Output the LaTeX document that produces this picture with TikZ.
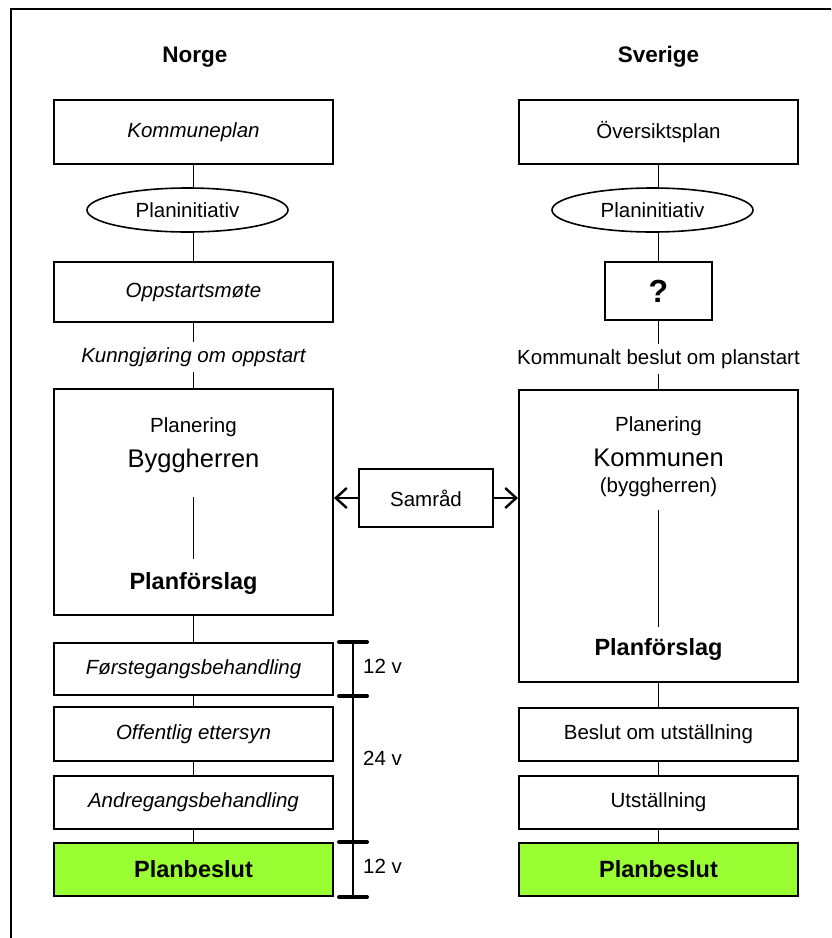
\documentclass[tikz,border=0pt]{standalone}
\usepackage{fontspec}
\setmainfont{Liberation Sans}
\usetikzlibrary{shapes.geometric}
\usetikzlibrary{arrows.meta}

\definecolor{beslutgreen}{RGB}{153,255,51}

\begin{document}
\begin{tikzpicture}[
    x=1pt, y=-1pt, % pixel-like coordinates, y grows downwards
    every node/.style={
        inner sep=0pt, % no padding, sizes are given explicitly
        font=\fontsize{20.5}{24}\selectfont % Arial-like text
    },
    title/.style={font=\fontsize{22.5}{26}\selectfont\bfseries},
    stepbox/.style={draw, line width=2pt, minimum width=279pt},
    oval/.style={draw, ellipse, line width=1.6pt, minimum width=201pt, minimum height=44pt},
    final/.style={fill=beslutgreen, font=\fontsize{23.5}{27}\selectfont\bfseries},
    label/.style={inner ysep=5pt}, % text between two steps
    link/.style={line width=1.3pt},
    samarrow/.style={line width=2.4pt, -{Straight Barb[length=11pt,width=20pt]}},
    tick/.style={line width=4pt, line cap=round}
]
\useasboundingbox (0,0) rectangle (831,938);
\clip (0,0) rectangle (831,938);
\draw[line width=2pt] (11,9) rectangle (900,1000);

% Norge
\node[title] (no) at (195,57) {Norge};
\node[stepbox, minimum height=64pt] (kp) at (193.5,132) {\itshape Kommuneplan};
\node[oval] (pln) at (187.5,210) {Planinitiativ};
\node[stepbox, minimum height=60pt] (om) at (193.5,292) {\itshape Oppstartsmøte};
\node[label] (ku) at (193.5,357) {\itshape Kunngjøring om oppstart};
\node[stepbox, minimum height=226pt] (pbn) at (193.5,502) {};
\node (pn) at (193.5,427) {Planering};
\node[font=\fontsize{25.5}{30}\selectfont] (by) at (193.5,461) {Byggherren};
\node[font=\fontsize{23.5}{27}\selectfont\bfseries] (pfn) at (193.5,583) {Planförslag};
\coordinate (ln1) at (193.5,497);
\coordinate (ln2) at (193.5,559);
\node[stepbox, minimum height=52pt] (fb) at (193.5,669) {\itshape Førstegangsbehandling};
\node[stepbox, minimum height=54pt] (oe) at (193.5,734) {\itshape Offentlig ettersyn};
\node[stepbox, minimum height=53pt] (ab) at (193.5,802.5) {\itshape Andregangsbehandling};
\node[stepbox, final, minimum height=53pt] (bn) at (193.5,869.5) {Planbeslut};

% Sverige
\node[title] (se) at (658.5,57) {Sverige};
\node[stepbox, minimum height=64pt] (op) at (658.5,132) {Översiktsplan};
\node[oval] (pls) at (652.5,210) {Planinitiativ};
\node[stepbox, minimum width=107pt, minimum height=58pt, font=\fontsize{32}{36}\selectfont\bfseries] (qu) at (658.5,291) {?};
\node[label] (kb) at (658.5,359) {Kommunalt beslut om planstart};
\node[stepbox, minimum height=292pt] (pbs) at (658.5,536) {};
\node (ps) at (658.5,426) {Planering};
\node[font=\fontsize{25.5}{30}\selectfont] (ko) at (658.5,458) {Kommunen};
\node (kby) at (658.5,487) {(byggherren)};
\node[font=\fontsize{23.5}{27}\selectfont\bfseries] (pfs) at (658.5,649) {Planförslag};
\coordinate (ls1) at (658.5,510);
\coordinate (ls2) at (658.5,627);
\node[stepbox, minimum height=53pt] (bu) at (658.5,734) {Beslut om utställning};
\node[stepbox, minimum height=53pt] (ut) at (658.5,802.5) {Utställning};
\node[stepbox, final, minimum height=53pt] (bs) at (658.5,869.5) {Planbeslut};

% Samråd
\node[stepbox, minimum width=134pt, minimum height=58pt] (sa) at (426,498) {Samråd};
\draw[samarrow] (sa.west) -- (sa.west -| pbn.east);
\draw[samarrow] (sa.east) -- (sa.east -| pbs.west);

% connectors
\draw[link] (kp.south) -- (kp.south |- pln.north);
\draw[link] (kp.south |- pln.south) -- (om.north);
\draw[link] (om.south) -- (ku.north);
\draw[link] (ku.south) -- (pbn.north);
\draw[link] (ln1) -- (ln2);
\draw[link] (pbn.south) -- (fb.north);
\draw[link] (fb.south) -- (oe.north);
\draw[link] (oe.south) -- (ab.north);
\draw[link] (ab.south) -- (bn.north);

\draw[link] (op.south) -- (op.south |- pls.north);
\draw[link] (op.south |- pls.south) -- (qu.north);
\draw[link] (qu.south) -- (kb.north);
\draw[link] (kb.south) -- (pbs.north);
\draw[link] (ls1) -- (ls2);
\draw[link] (pbs.south) -- (bu.north);
\draw[link] (bu.south) -- (ut.north);
\draw[link] (ut.south) -- (bs.north);

% time scale
\coordinate (bar) at (353,0);
\coordinate (t1) at (fb.north -| bar);
\coordinate (t2) at (fb.south -| bar);
\coordinate (t3) at (bn.north -| bar);
\coordinate (t4) at (bn.south -| bar);
\draw[line width=1.5pt] (t1) -- (t4);
\foreach \t in {t1,t2,t3,t4}
    \draw[tick] ([xshift=-14pt]\t) -- ([xshift=14pt]\t);
\node[anchor=west] (w1) at (363,666) {12 v};
\node[anchor=west] (w2) at (363,758) {24 v};
\node[anchor=west] (w3) at (363,866) {12 v};
\end{tikzpicture}
\end{document}
